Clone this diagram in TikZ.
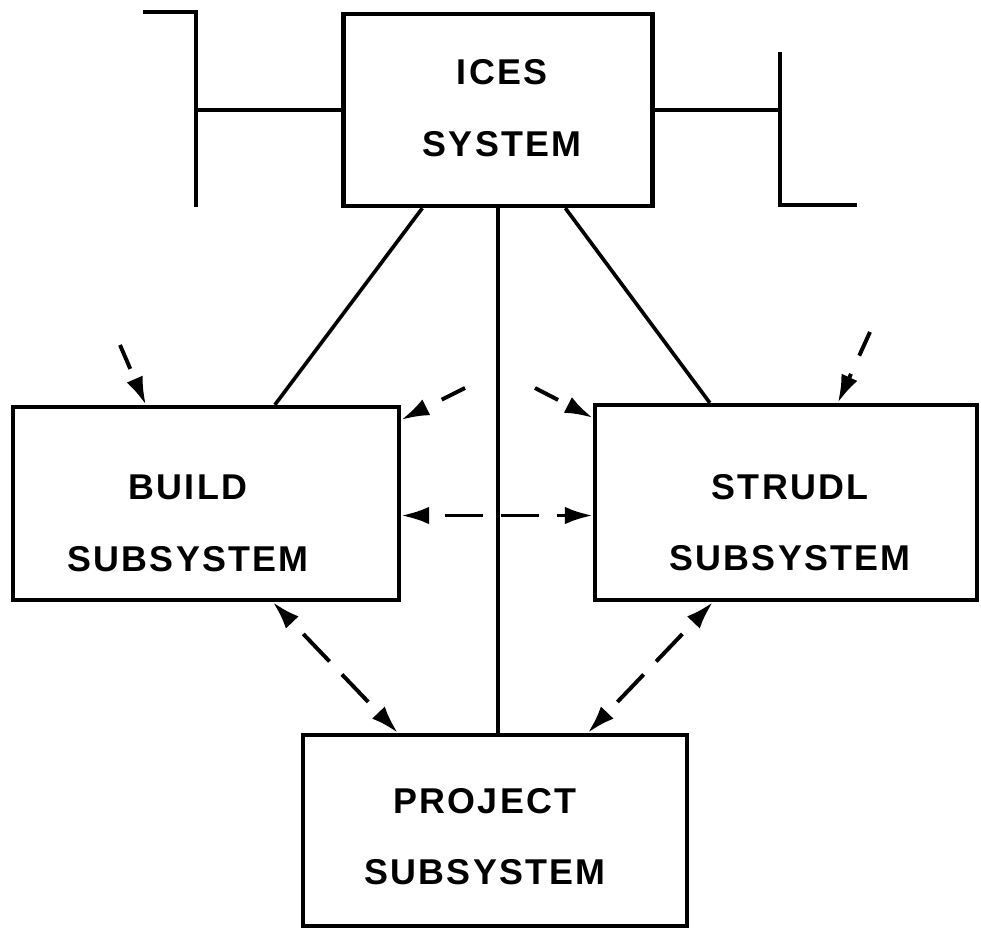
\documentclass[tikz,border=0pt]{standalone}
\usepackage{fontspec}
\newfontfamily\lettering[LetterSpace=6]{Liberation Sans}
\usetikzlibrary{calc,arrows.meta}

\begin{document}
\begin{tikzpicture}[x=0.025cm,y=-0.025cm,
  >={Latex[length=7mm,width=4.4mm]},
  box/.style 2 args={draw,line width=3pt,minimum width=#1,minimum height=#2,inner sep=0pt},
  words/.style={font=\lettering\bfseries\fontsize{25.5}{51}\selectfont,align=center},
  link/.style={line width=2.6pt},
  flow/.style={line width=2.8pt,dash pattern=on 0.95cm off 0.45cm,dash phase=0.95cm},
  shortflow/.style={line width=2.8pt,dash pattern=on 0.65cm off 0.5cm,->}]
\useasboundingbox (0,0) rectangle (981,930);
% Boxes
\node[box={7.725cm}{4.8cm},label={[words,xshift=0.1cm,yshift=0.05cm]center:{ICES\\SYSTEM}}] (ices) at (498,110) {};
\node[box={9.65cm}{4.825cm},label={[words,xshift=-0.45cm,yshift=-0.5cm]center:{BUILD\\SUBSYSTEM}}] (build) at (206,503.5) {};
\node[box={9.55cm}{4.875cm},label={[words,xshift=0.1cm,yshift=-0.5cm]center:{STRUDL\\SUBSYSTEM}}] (strudl) at (786,502.5) {};
\node[box={9.6cm}{4.775cm},label={[words,xshift=-0.25cm,yshift=-0.15cm]center:{PROJECT\\SUBSYSTEM}}] (project) at (495,830.5) {};
% Bus stubs either side of ICES
\coordinate (ltop) at (143,12);
\coordinate (lcorner) at (196,12);
\coordinate (lfoot) at (196,207);
\coordinate (rtop) at (780,52);
\coordinate (rcorner) at (780,205);
\coordinate (rend) at (857,205);
\draw[link] (ltop) -- (lcorner) -- (lfoot);
\draw[link] (ices.west) -- (ices.west -| lcorner);
\draw[link] (rtop) -- (rcorner) -- (rend);
\draw[link] (ices.east) -- (ices.east -| rcorner);
% Solid links from ICES
\draw[link] ($(ices.south west)+(81,0)$) -- ($(build.north west)+(264,0)$);
\draw[link] ($(ices.south west)+(224,0)$) -- ($(strudl.north west)+(117,0)$);
\draw[link] (ices.south) -- (ices.south |- project.north);
% Incoming dashed arrows
\coordinate (inbuild) at (120,345);
\coordinate (midleft) at (465,388);
\coordinate (midright) at (535,388);
\coordinate (instrudl) at (870,332);
\draw[shortflow] (inbuild) -- ($(build.north west)+(135,0)$);
\draw[shortflow] (midleft) -- ($(build.north east)+(0,15)$);
\draw[shortflow] (midright) -- ($(strudl.north west)+(0,15)$);
\draw[shortflow] (instrudl) -- ($(strudl.north west)+(245,0)$);
% Two-way dashed arrows
\draw[flow,<->] ($(build.east)+(0,12)$) coordinate (bs) -- (bs -| strudl.west);
\draw[flow,<->] ($(build.south west)+(262,0)$) -- ($(project.north west)+(97,0)$);
\draw[flow,<->] ($(strudl.south west)+(120,0)$) -- ($(project.north west)+(287,0)$);
\end{tikzpicture}
\end{document}
